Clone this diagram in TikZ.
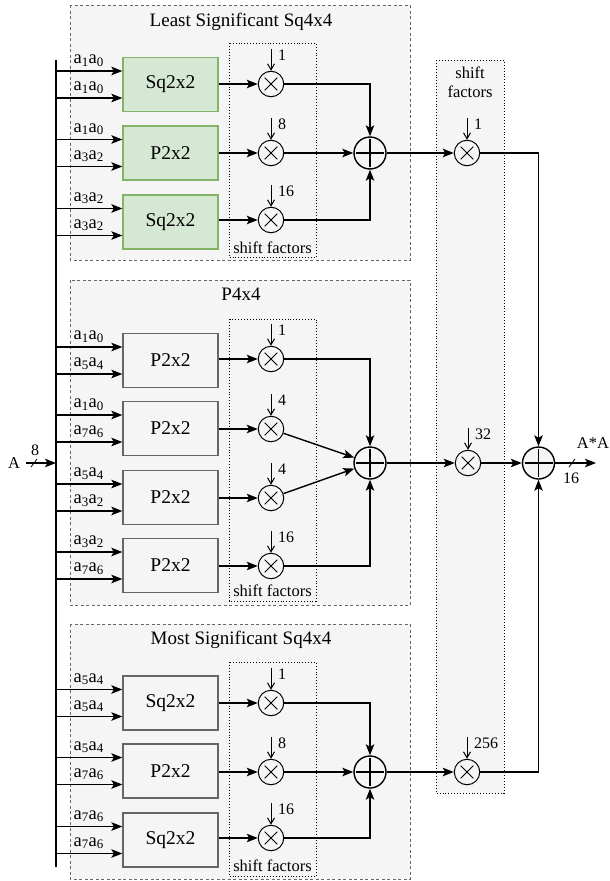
\documentclass[tikz,border=0pt]{standalone}
\usepackage{fontspec}
\setmainfont{Liberation Serif}
\usetikzlibrary{arrows.meta,calc}
\definecolor{grpfill}{HTML}{F5F5F5}
\definecolor{grpdraw}{HTML}{666666}
\definecolor{gfill}{HTML}{D5E8D4}
\definecolor{gdraw}{HTML}{82B366}
\tikzset{
  grp/.style={draw=grpdraw, fill=grpfill, line width=0.9pt, dash pattern=on 3pt off 2.5pt},
  sfbox/.style={draw=black, fill=grpfill, line width=0.9pt, dotted},
  title/.style={font=\fontsize{19}{21}\selectfont, inner sep=0pt},
  greenbox/.style={draw=gdraw, fill=gfill, line width=1.3pt, minimum width=95pt, minimum height=54pt, inner sep=0pt, font=\fontsize{19.5}{21}\selectfont},
  graybox/.style={draw=grpdraw, fill=grpfill, line width=1.3pt, minimum width=95pt, minimum height=54pt, inner sep=0pt, font=\fontsize{19.5}{21}\selectfont},
  lab/.style={font=\fontsize{18.5}{20}\selectfont, inner sep=0pt, anchor=base west},
  num/.style={font=\fontsize{16}{18}\selectfont, inner sep=0pt, anchor=west},
  sflab/.style={font=\fontsize{16.5}{18}\selectfont, inner sep=0pt, align=center},
  arr/.style={line width=1.4pt, -{Stealth[length=11pt,width=8.5pt,inset=2.5pt]}},
  sarr/.style={line width=1pt, -{Straight Barb[length=6pt,width=7pt]}},
  mult/.style={circle, draw, fill=grpfill, line width=1pt, minimum size=25.5pt, inner sep=0pt,
    path picture={\draw[line width=1pt]
      ([shift={(-6.3,-6.3)}]path picture bounding box.center) -- ([shift={(6.3,6.3)}]path picture bounding box.center)
      ([shift={(-6.3,6.3)}]path picture bounding box.center) -- ([shift={(6.3,-6.3)}]path picture bounding box.center);}},
  adder/.style={circle, draw, fill=grpfill, line width=1.4pt, minimum size=32pt, inner sep=0pt,
    path picture={\draw[line width=1.4pt]
      ([xshift=-14pt]path picture bounding box.center) -- ([xshift=14pt]path picture bounding box.center)
      ([yshift=-14pt]path picture bounding box.center) -- ([yshift=14pt]path picture bounding box.center);}}
}
\newcommand\mkbox[6]{%
  \node[#4] (#1) at (170.5,#2) {#3};
  \coordinate (#1i1) at ([yshift=13.5pt]#1.west);
  \coordinate (#1i2) at ([yshift=-13.5pt]#1.west);
  \draw[arr] (bus |- #1i1) -- (#1i1);
  \draw[arr] (bus |- #1i2) -- (#1i2);
  \node[lab] at ([xshift=-49pt,yshift=7.5pt]#1i1) {#5};
  \node[lab] at ([xshift=-49pt,yshift=7.5pt]#1i2) {#6};
}
\newcommand\mkmult[4]{%
  \node[mult] (#1) at (#2,#3) {};
  \coordinate (#1s) at ([yshift=21.5pt]#1.north);
  \draw[sarr] (#1s) -- (#1.north);
  \node[num] at ([xshift=7pt,yshift=28.5pt]#1.center) {#4};
}
\newcommand\bitpair[2]{a\textsubscript{#1}a\textsubscript{#2}}
\begin{document}
\begin{tikzpicture}[x=1pt,y=-1pt]
\useasboundingbox (0,0) rectangle (610,881);
% group frames
\draw[grp] (70,5) rectangle (410,260);
\draw[grp] (70,280) rectangle (410,605);
\draw[grp] (70,624) rectangle (410,879);
\node[title] (t1) at (241,22) {Least Significant Sq4x4};
\node[title] (t2) at (241,294) {P4x4};
\node[title] (t3) at (241,640) {Most Significant Sq4x4};
% shift factor frames
\draw[sfbox] (229,43) rectangle (316,257);
\draw[sfbox] (229,319) rectangle (316,601);
\draw[sfbox] (229,662) rectangle (316,876);
\draw[sfbox] (436,60) rectangle (504,793);
\node[sflab] (sf1) at (272.5,247.5) {shift factors};
\node[sflab] (sf2) at (272.5,591) {shift factors};
\node[sflab] (sf3) at (272.5,866) {shift factors};
\node[sflab] (sfr) at (470,82) {shift\\[1pt]factors};
% bus
\coordinate (bus) at (56,0);
\coordinate (busT) at (56,60);
\coordinate (busB) at (56,867);
\draw[line width=1.4pt] (busT) -- (busB);
% input A
\node[font=\fontsize{16.5}{18}\selectfont, inner sep=0pt] (A) at (14,463) {A};
\draw[arr] (A.east) ++(6pt,0) coordinate (Ain) -- (bus |- A);
\coordinate (As) at (34,463);
\draw[line width=0.8pt] ([shift={(-3,4)}]As) -- ([shift={(3,-4)}]As);
\node[num, anchor=center] (A8) at (35,450) {8};
% group 1
\mkbox{b11}{84.5}{Sq2x2}{greenbox}{\bitpair10}{\bitpair10}
\mkbox{b12}{153}{P2x2}{greenbox}{\bitpair10}{\bitpair32}
\mkbox{b13}{222}{Sq2x2}{greenbox}{\bitpair32}{\bitpair32}
\mkmult{m11}{271}{84}{1}
\mkmult{m12}{271}{153}{8}
\mkmult{m13}{271}{220}{16}
\node[adder] (a1) at (370,153) {};
\draw[arr] (b11.east |- m11) -- (m11);
\draw[arr] (b12.east |- m12) -- (m12);
\draw[arr] (b13.east |- m13) -- (m13);
\draw[arr] (m11) -| (a1);
\draw[arr] (m12) -- (a1);
\draw[arr] (m13) -| (a1);
% group 2
\mkbox{b21}{360.5}{P2x2}{graybox}{\bitpair10}{\bitpair54}
\mkbox{b22}{428.5}{P2x2}{graybox}{\bitpair10}{\bitpair76}
\mkbox{b23}{497.5}{P2x2}{graybox}{\bitpair54}{\bitpair32}
\mkbox{b24}{565.5}{P2x2}{graybox}{\bitpair32}{\bitpair76}
\mkmult{m21}{271}{359}{1}
\mkmult{m22}{271}{429}{4}
\mkmult{m23}{271}{498}{4}
\mkmult{m24}{271}{566}{16}
\node[adder] (a2) at (370,463) {};
\draw[arr] (b21.east |- m21) -- (m21);
\draw[arr] (b22.east |- m22) -- (m22);
\draw[arr] (b23.east |- m23) -- (m23);
\draw[arr] (b24.east |- m24) -- (m24);
\draw[arr] (m21) -| (a2);
\draw[arr] (m22) -- (a2);
\draw[arr] (m23) -- (a2);
\draw[arr] (m24) -| (a2);
% group 3
\mkbox{b31}{703}{Sq2x2}{graybox}{\bitpair54}{\bitpair54}
\mkbox{b32}{771}{P2x2}{graybox}{\bitpair54}{\bitpair76}
\mkbox{b33}{840}{Sq2x2}{graybox}{\bitpair76}{\bitpair76}
\mkmult{m31}{271}{703}{1}
\mkmult{m32}{271}{772}{8}
\mkmult{m33}{271}{838}{16}
\node[adder] (a3) at (370,772) {};
\draw[arr] (b31.east |- m31) -- (m31);
\draw[arr] (b32.east |- m32) -- (m32);
\draw[arr] (b33.east |- m33) -- (m33);
\draw[arr] (m31) -| (a3);
\draw[arr] (m32) -- (a3);
\draw[arr] (m33) -| (a3);
% right column
\mkmult{r1}{467}{153}{1}
\mkmult{r2}{468}{463}{32}
\mkmult{r3}{467}{772}{256}
\node[adder] (fa) at (538.5,463) {};
\draw[arr] (a1) -- (r1);
\draw[arr] (a2) -- (r2);
\draw[arr] (a3) -- (r3);
\draw[arr] (r1) -| (fa);
\draw[arr] (r2) -- (fa);
\draw[arr] (r3) -| (fa);
% output
\coordinate (out) at (596,463);
\draw[arr] (fa) -- (out);
\coordinate (os) at (572,463);
\draw[line width=0.8pt] ([shift={(-3,4)}]os) -- ([shift={(3,-4)}]os);
\node[num, anchor=center] (o16) at (571,478) {16};
\node[font=\fontsize{16.5}{18}\selectfont, inner sep=0pt] (AA) at (593,443) {A*A};
\end{tikzpicture}
\end{document}
